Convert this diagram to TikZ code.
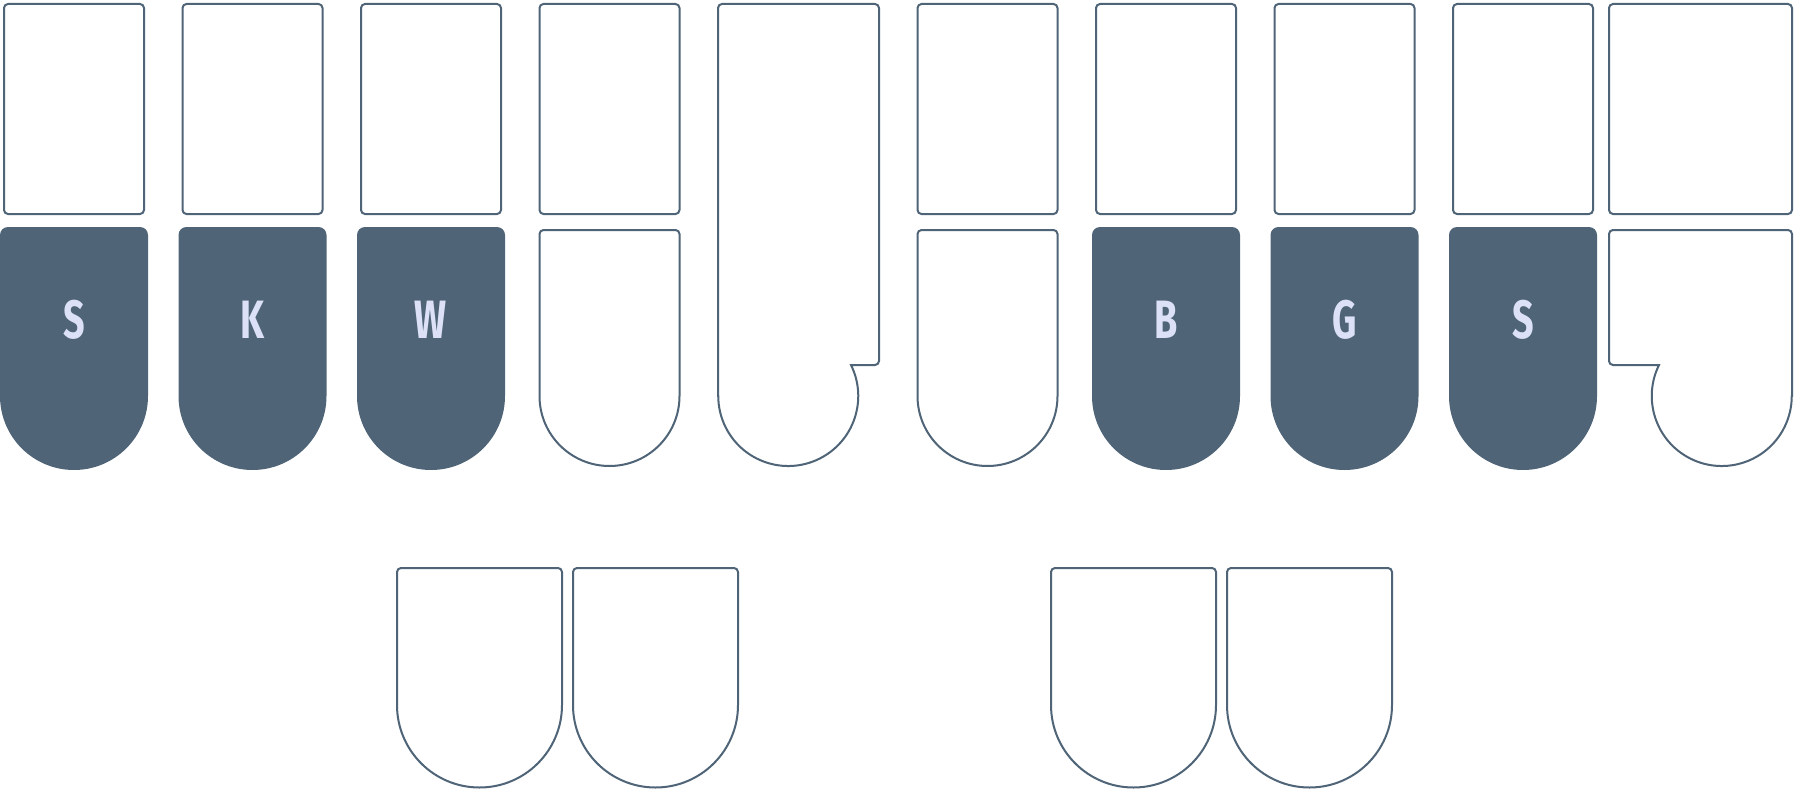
\documentclass[tikz,border=0pt]{standalone}
\usepackage{fontspec}
\setmainfont{Fira Sans}
\definecolor{keyc}{HTML}{4F6477}
\definecolor{txtc}{HTML}{DCE1F7}
\begin{document}
\begin{tikzpicture}[x=1pt,y=-1pt,
  outl/.style={draw=keyc,line width=2pt,fill=white},
  filledkey/.style={fill=keyc},
  keylabel/.style={text=txtc,font=\fontsize{54}{54}\selectfont\bfseries,inner sep=0pt,xscale=0.7}]
\useasboundingbox (0,0) rectangle (1796,792);
% top row outlines
\foreach \c in {0,178.5,357,535.5,913.5,1092,1270.5,1449}{
  \draw[outl,rounded corners=4pt] (\c+4,4) rectangle (\c+144,214);
}
\draw[outl,rounded corners=4pt] (1609,4) rectangle (1792,214);
% filled lower keys
\foreach \c/\l/\n in {0/S/s1,178.5/K/k1,357/W/w1,1092/B/b1,1270.5/G/g1,1449/S/s2}{
  \fill[filledkey] (\c,396) [rounded corners=8pt] -- (\c,227) -- (\c+148,227) [sharp corners] -- (\c+148,396) arc[start angle=0,end angle=-180,radius=74pt] -- cycle;
  \node[keylabel] (\n) at (\c+74,320) {\l};
}
% outlined lower keys
\foreach \c in {535.5,913.5}{
  \draw[outl] (\c+4,396) [rounded corners=4pt] -- (\c+4,230) -- (\c+144,230) [sharp corners] -- (\c+144,396) arc[start angle=0,end angle=-180,radius=70pt] -- cycle;
}
% asterisk key
\draw[outl] (718,396) [rounded corners=4pt] -- (718,4) -- (879,4) -- (879,365) [sharp corners] -- (851,365) arc[start angle=26.3,end angle=-180,radius=70pt] -- cycle;
% last key lower
\draw[outl] (1792,396) [rounded corners=4pt] -- (1792,230) -- (1609,230) -- (1609,365) [sharp corners] -- (1659,365) arc[start angle=153.7,end angle=360,radius=70pt] -- cycle;
% thumb keys
\foreach \c in {397,573,1051,1227}{
  \draw[outl] (\c,705) [rounded corners=4pt] -- (\c,568) -- (\c+165,568) [sharp corners] -- (\c+165,705) arc[start angle=0,end angle=-180,radius=82.5pt] -- cycle;
}
\end{tikzpicture}
\end{document}
